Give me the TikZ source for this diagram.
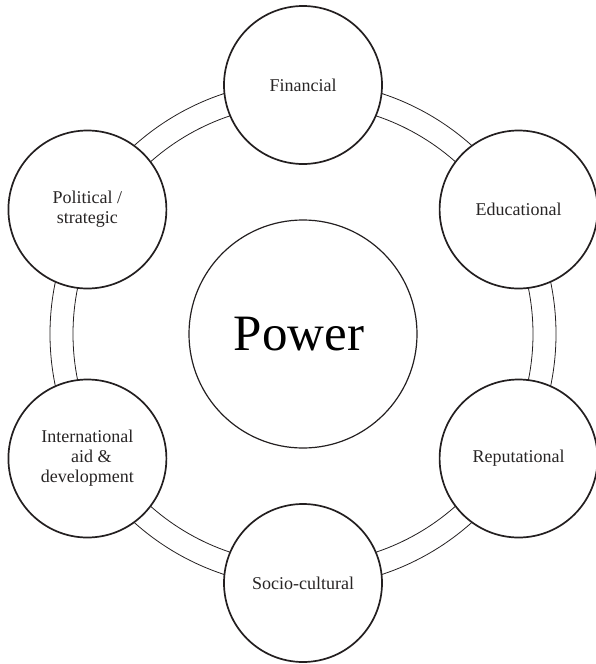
\documentclass[tikz,border=0pt]{standalone}
\usepackage{fontspec}
\setmainfont{Liberation Serif}
\begin{document}
\begin{tikzpicture}[x=1pt,y=-1pt,
  ink/.style={color={rgb,255:red,35;green,31;blue,32}},
  facet/.style={circle, draw, ink, fill=white, line width=1.7pt,
    minimum size=158pt, inner sep=0pt, align=center,
    font=\fontsize{18}{20}\selectfont, text={rgb,255:red,40;green,37;blue,37}},
  core/.style={circle, draw, ink, line width=1.2pt, minimum size=228pt,
    inner sep=0pt, font=\fontsize{51}{56}\selectfont, text=black},
  ring/.style={draw, ink, line width=0.8pt}]
\useasboundingbox (0,0) rectangle (595,664);
\coordinate (c) at (303,334);
% double ring linking the outer circles
\draw[ring] (c) circle[radius=253];
\draw[ring] (c) circle[radius=230];
% central circle
\node[core] (power) at (c) {\hspace*{-8pt}Power};
% six forms of power on a hexagon of radius 249
\node[facet] (fin)  at (303,85)      {Financial};
\node[facet] (edu)  at (518.6,209.5) {Educational};
\node[facet] (rep)  at (518.6,458.5) {Reputational};
\node[facet] (soc)  at (303,583)     {Socio-cultural};
\node[facet] (intl) at (87.4,458.5)  {International\\\hspace*{8pt}aid \&\\development};
\node[facet] (pol)  at (87.4,209.5)  {Political /\\strategic};
\end{tikzpicture}
\end{document}
